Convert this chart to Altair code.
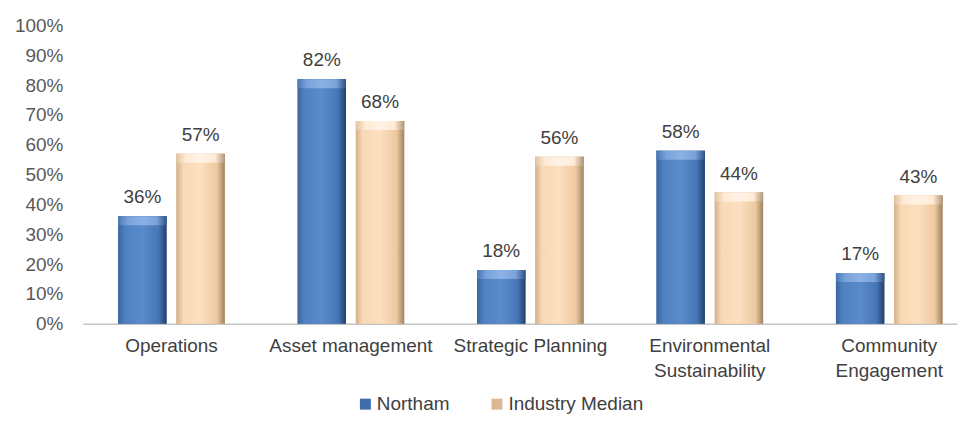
import altair as alt
import pandas as pd

categories = ["Operations", "Asset management", "Strategic Planning",
              "Environmental|Sustainability", "Community|Engagement"]
series = ["Northam", "Industry Median"]
northam = [0.36, 0.82, 0.18, 0.58, 0.17]
industry_median = [0.57, 0.68, 0.56, 0.44, 0.43]
y_ticks = [0, 0.1, 0.2, 0.3, 0.4, 0.5, 0.6, 0.7, 0.8, 0.9, 1.0]

rows = []
for c, a, b in zip(categories, northam, industry_median):
    rows.append({"category": c, "series": series[0], "value": a})
    rows.append({"category": c, "series": series[1], "value": b})
df = pd.DataFrame(rows)

FONT = "Liberation Sans"
FS = 19

x_enc = alt.X(
    "category:N", sort=categories, title=None,
    scale=alt.Scale(paddingInner=0.406, paddingOuter=0.139, align=0.71),
    axis=alt.Axis(labelExpr="split(datum.label, '|')", labelAngle=0, ticks=False,
                  labelPadding=13, labelFontSize=FS, labelColor="#404040",
                  labelFont=FONT, labelLineHeight=25, domainColor="#C4C4C4",
                  domainWidth=1.5, labelBaseline="top"),
)
xoff_enc = alt.XOffset("series:N", sort=series,
                       scale=alt.Scale(domain=series, paddingInner=0.17))
y_enc = alt.Y(
    "value:Q", title=None,
    scale=alt.Scale(domain=[0, 1], nice=False),
    axis=alt.Axis(values=y_ticks, format=".0%", grid=False, ticks=False,
                  domain=False, labelPadding=20, labelFontSize=FS,
                  labelColor="#595959", labelFont=FONT),
)

base = alt.Chart(df)

solid = base.mark_bar().encode(
    x=x_enc, xOffset=xoff_enc, y=y_enc,
    color=alt.Color("series:N", sort=series,
                    scale=alt.Scale(domain=series, range=["#3F6DAA", "#D9B892"]),
                    legend=alt.Legend(title=None, orient="none", legendX=274, legendY=370,
                                      direction="horizontal", symbolType="square",
                                      symbolSize=121, labelFontSize=FS, labelFont=FONT,
                                      labelColor="#404040", columnPadding=38,
                                      labelOffset=2, symbolStrokeWidth=0)),
)

blue_grad = alt.Gradient(
    gradient="linear", x1=0, x2=1, y1=0, y2=0,
    stops=[alt.GradientStop(offset=0, color="#3C669E"),
           alt.GradientStop(offset=0.14, color="#4F80C2"),
           alt.GradientStop(offset=0.5, color="#5A8CCB"),
           alt.GradientStop(offset=0.84, color="#4675B4"),
           alt.GradientStop(offset=1, color="#233F68")],
)
peach_grad = alt.Gradient(
    gradient="linear", x1=0, x2=1, y1=0, y2=0,
    stops=[alt.GradientStop(offset=0, color="#D2B08A"),
           alt.GradientStop(offset=0.14, color="#F9D9B5"),
           alt.GradientStop(offset=0.5, color="#FCDFBF"),
           alt.GradientStop(offset=0.84, color="#EDC9A0"),
           alt.GradientStop(offset=1, color="#9E8262")],
)
blue_top = alt.Gradient(
    gradient="linear", x1=0, x2=1, y1=0, y2=0,
    stops=[alt.GradientStop(offset=0, color="#4A78B6"),
           alt.GradientStop(offset=0.2, color="#7AA3DA"),
           alt.GradientStop(offset=0.5, color="#8CB2E4"),
           alt.GradientStop(offset=0.8, color="#7AA3DA"),
           alt.GradientStop(offset=1, color="#2E5284")],
)
peach_top = alt.Gradient(
    gradient="linear", x1=0, x2=1, y1=0, y2=0,
    stops=[alt.GradientStop(offset=0, color="#E2C4A0"),
           alt.GradientStop(offset=0.2, color="#FFEBD6"),
           alt.GradientStop(offset=0.5, color="#FFF3E6"),
           alt.GradientStop(offset=0.8, color="#FFEBD6"),
           alt.GradientStop(offset=1, color="#B3967A")],
)

blue_bars = base.transform_filter(alt.datum.series == series[0]).mark_bar(
    color=blue_grad).encode(x=x_enc, xOffset=xoff_enc, y=y_enc)
peach_bars = base.transform_filter(alt.datum.series == series[1]).mark_bar(
    color=peach_grad).encode(x=x_enc, xOffset=xoff_enc, y=y_enc)

top_blue = base.transform_filter(alt.datum.series == series[0]).transform_calculate(
    v2="datum.value - 0.03").mark_bar(color=blue_top).encode(
    x=x_enc, xOffset=xoff_enc, y=y_enc, y2="v2:Q")
top_peach = base.transform_filter(alt.datum.series == series[1]).transform_calculate(
    v2="datum.value - 0.03").mark_bar(color=peach_top).encode(
    x=x_enc, xOffset=xoff_enc, y=y_enc, y2="v2:Q")

labels = base.mark_text(dy=-9, baseline="bottom", fontSize=FS, font=FONT,
                        color="#404040").encode(
    x=x_enc, xOffset=xoff_enc, y=y_enc,
    text=alt.Text("value:Q", format=".0%"),
)

chart = alt.layer(solid, blue_bars, peach_bars, top_blue, top_peach, labels).properties(
    width=877, height=299,
    autosize=alt.AutoSizeParams(type="none"),
    padding={"left": 75, "top": 17, "right": 3, "bottom": 98},
    background="white",
).configure_view(stroke=None)

chart.save("out.html", embed_options={"renderer": "svg", "actions": False})
